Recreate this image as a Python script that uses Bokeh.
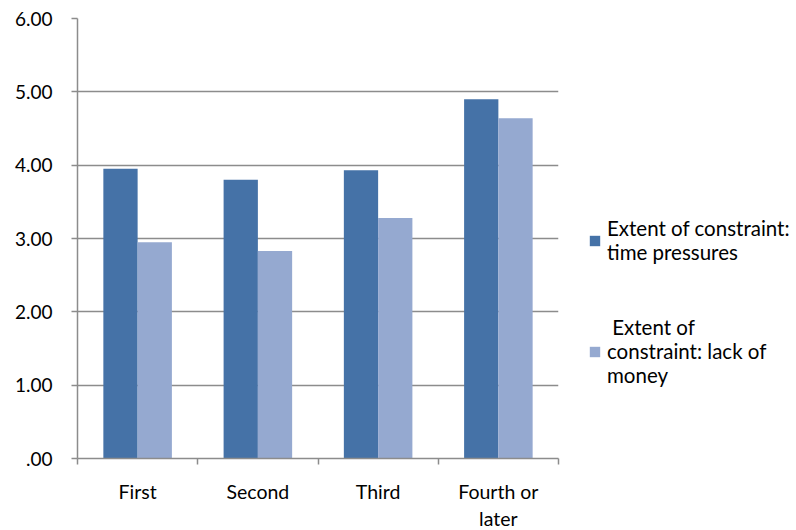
from bokeh.plotting import figure
from bokeh.models import FixedTicker, Range1d, Legend, LegendItem, ColumnDataSource
from bokeh.embed import file_html
from bokeh.resources import INLINE

categories = ["First", "Second", "Third", "Fourth or\nlater"]
time_pressures = [3.95, 3.80, 3.93, 4.90]
lack_of_money = [2.95, 2.83, 3.28, 4.64]
series_names = ["Extent of constraint:\ntime pressures", " Extent of\nconstraint: lack of\nmoney"]
y_ticks = [0, 1, 2, 3, 4, 5, 6]
y_labels = [".00", "1.00", "2.00", "3.00", "4.00", "5.00", "6.00"]

FONT = "Lato"
DARK = "#4572A7"
LIGHT = "#95A9D0"
GRID = "#8C8C8C"

xc = [i + 0.5 for i in range(len(categories))]
bw = 0.285
src = ColumnDataSource(dict(
    x1=[x - bw / 2 for x in xc], x2=[x + bw / 2 for x in xc],
    t=time_pressures, m=lack_of_money))

p = figure(frame_width=481, frame_height=440, output_backend="svg", toolbar_location=None,
           x_range=Range1d(0, 4), y_range=Range1d(0, 6),
           min_border_left=77, min_border_right=238, min_border_top=18, min_border_bottom=72)
p.outline_line_color = None
p.background_fill_color = "white"
p.border_fill_color = "white"

r1 = p.vbar(x="x1", top="t", width=bw, bottom=0, source=src, fill_color=DARK, line_color=None)
r2 = p.vbar(x="x2", top="m", width=bw, bottom=0, source=src, fill_color=LIGHT, line_color=None)

# x axis
p.xaxis.ticker = FixedTicker(ticks=xc, minor_ticks=[0, 1, 2, 3, 4])
p.xaxis.major_label_overrides = {x: c for x, c in zip(xc, categories)}
p.xaxis.major_tick_line_color = None
p.xaxis.major_tick_out = 0
p.xaxis.major_tick_in = 0
p.xaxis.minor_tick_line_color = GRID
p.xaxis.minor_tick_line_width = 1.5
p.xaxis.minor_tick_in = 0
p.xaxis.minor_tick_out = 6
p.xaxis.axis_line_color = GRID
p.xaxis.axis_line_width = 1.5
p.xaxis.major_label_standoff = 15
p.xaxis.major_label_text_font = FONT
p.xaxis.major_label_text_font_size = "19.5px"
p.xaxis.major_label_text_color = "black"

# y axis
p.yaxis.ticker = FixedTicker(ticks=y_ticks, minor_ticks=[])
p.yaxis.major_label_overrides = {t: l for t, l in zip(y_ticks, y_labels)}
p.yaxis.major_tick_line_color = GRID
p.yaxis.major_tick_in = 0
p.yaxis.major_tick_out = 6
p.yaxis.axis_line_color = GRID
p.yaxis.axis_line_width = 1.5
p.yaxis.major_tick_line_width = 1.5
p.yaxis.major_label_standoff = 19
p.yaxis.major_label_text_font = FONT
p.yaxis.major_label_text_font_size = "19px"
p.yaxis.major_label_text_color = "black"

p.xgrid.grid_line_color = None
p.ygrid.ticker = FixedTicker(ticks=y_ticks)
p.ygrid.grid_line_color = GRID
p.ygrid.grid_line_width = 1.5

legend = Legend(items=[LegendItem(label=series_names[0], renderers=[r1]),
                       LegendItem(label=series_names[1], renderers=[r2])],
                location="top_left", orientation="vertical",
                title=" ", title_text_font_size="2px", title_standoff=166,
                label_text_font=FONT, label_text_font_size="20.5px",
                label_text_color="black", glyph_width=13, glyph_height=13,
                label_standoff=6, spacing=51, padding=0, margin=30,
                border_line_color=None, background_fill_alpha=0)
p.add_layout(legend, "right")

open("out.html", "w").write(file_html(p, INLINE))
